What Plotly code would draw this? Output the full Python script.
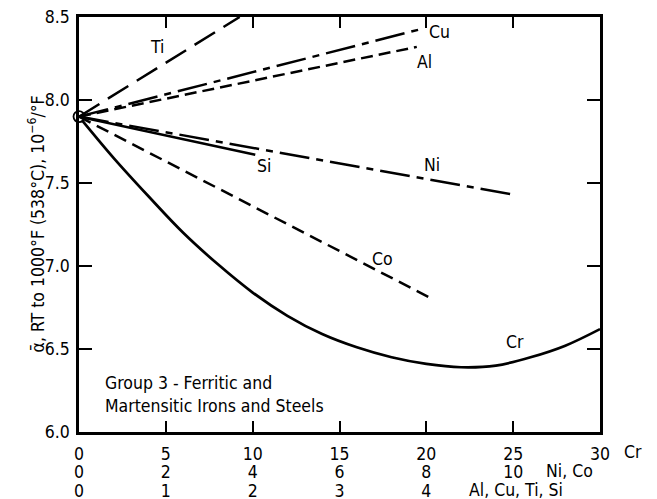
import plotly.graph_objects as go

# ---------------- data ----------------
# Cr scale (wt %), 0-30
cr_x = [0, 2, 4, 6, 8, 10, 12, 14, 16, 18, 20, 22, 24, 26, 28, 30]
cr_y = [7.90, 7.65, 7.42, 7.20, 7.01, 6.84, 6.70, 6.59, 6.51, 6.45, 6.41, 6.39, 6.40, 6.45, 6.52, 6.62]

# Ni, Co scale (wt %), 0-12
ni_x = [0, 10.0]
ni_y = [7.90, 7.43]
co_x = [0, 8.15]
co_y = [7.90, 6.80]

# Al, Cu, Ti, Si scale (wt %), 0-6
ti_x = [0, 1.85]
ti_y = [7.90, 8.50]
cu_x = [0, 3.96]
cu_y = [7.90, 8.43]
al_x = [0, 3.89]
al_y = [7.90, 8.32]
si_x = [0, 2.03]
si_y = [7.90, 7.67]

origin_x = [0]
origin_y = [7.90]

cr_ticks = [0, 5, 10, 15, 20, 25, 30]
nico_ticks = [0, 2, 4, 6, 8, 10]
alcu_ticks = [0, 1, 2, 3, 4]
y_ticks = [6.0, 6.5, 7.0, 7.5, 8.0, 8.5]
y_ticktext = ["6.0", "6.5", "7.0", "7.5", "8.0", "8.5"]

# ---------------- layout constants ----------------
W, H = 657, 499
ML, MR, MT, MB = 79, 57, 17, 0
PLOT_BOTTOM_PX = 432
PH = H - MT - MB
PW = W - ML - MR
FREE_LABEL_OFF = 16  # px from a free axis position to the centre of its tick labels


def py(px):
    """pixel row (from top) -> paper y"""
    return (H - MB - px) / PH


def px_(x):
    """pixel column -> paper x"""
    return (x - ML) / PW


FONT = "Liberation Sans Narrow, DejaVu Sans Condensed, Arial Narrow, Roboto, sans-serif"
FS = 17.5
LW = 2.5
BLACK = "black"

fig = go.Figure()

fig.add_trace(go.Scatter(x=cr_x, y=cr_y, mode="lines", line=dict(color=BLACK, width=2.7, shape="spline"),
                         xaxis="x", yaxis="y", showlegend=False))
fig.add_trace(go.Scatter(x=ni_x, y=ni_y, mode="lines", line=dict(color=BLACK, width=LW, dash="30px,7px,7px,7px"),
                         xaxis="x2", yaxis="y", showlegend=False))
fig.add_trace(go.Scatter(x=co_x, y=co_y, mode="lines", line=dict(color=BLACK, width=LW, dash="13px,7px"),
                         xaxis="x2", yaxis="y", showlegend=False))
fig.add_trace(go.Scatter(x=ti_x, y=ti_y, mode="lines", line=dict(color=BLACK, width=LW, dash="24px,10px"),
                         xaxis="x3", yaxis="y", showlegend=False))
fig.add_trace(go.Scatter(x=cu_x, y=cu_y, mode="lines", line=dict(color=BLACK, width=LW, dash="30px,7px,7px,7px"),
                         xaxis="x3", yaxis="y", showlegend=False))
fig.add_trace(go.Scatter(x=al_x, y=al_y, mode="lines", line=dict(color=BLACK, width=LW, dash="12px,6px"),
                         xaxis="x3", yaxis="y", showlegend=False))
fig.add_trace(go.Scatter(x=si_x, y=si_y, mode="lines", line=dict(color=BLACK, width=LW),
                         xaxis="x3", yaxis="y", showlegend=False))
fig.add_trace(go.Scatter(x=origin_x, y=origin_y, mode="markers", cliponaxis=False,
                         marker=dict(size=11, color="white", line=dict(color=BLACK, width=1.8)),
                         xaxis="x", yaxis="y", showlegend=False))

tickfont = dict(family=FONT, size=FS, color=BLACK)
y_dom0 = py(PLOT_BOTTOM_PX)

fig.update_layout(
    width=W, height=H,
    margin=dict(l=ML, r=MR, t=MT, b=MB, pad=0, autoexpand=False),
    paper_bgcolor="white", plot_bgcolor="white",
    font=dict(family=FONT, size=FS, color=BLACK),
    showlegend=False,
    xaxis=dict(range=[0, 30], tickvals=cr_ticks, ticks="inside", ticklen=11, tickwidth=1.5, tickcolor=BLACK,
               showline=True, linecolor=BLACK, linewidth=2.5, mirror="ticks", showgrid=False, zeroline=False,
               tickfont=tickfont, ticklabelstandoff=4, anchor="y", automargin=False),
    xaxis2=dict(range=[0, 12], tickvals=nico_ticks, ticks="", showline=False, showgrid=False, zeroline=False,
                overlaying="x", anchor="free", position=py(471 - FREE_LABEL_OFF), tickfont=tickfont,
                ticklabelstandoff=4, automargin=False),
    xaxis3=dict(range=[0, 6], tickvals=alcu_ticks, ticks="", showline=False, showgrid=False, zeroline=False,
                overlaying="x", anchor="free", position=py(490 - FREE_LABEL_OFF), tickfont=tickfont,
                ticklabelstandoff=4, automargin=False),
    yaxis=dict(range=[6, 8.5], domain=[y_dom0, 1], tickvals=y_ticks, ticktext=y_ticktext, ticks="inside",
               ticklen=13, tickwidth=1.5, tickcolor=BLACK, showline=True, linecolor=BLACK, linewidth=2.5,
               mirror="ticks", showgrid=False, zeroline=False, tickfont=tickfont, ticklabelstandoff=3,
               automargin=False),
)

ann_font = dict(family=FONT, size=FS, color=BLACK)
C = dict(showarrow=False, font=ann_font, xanchor="center", yanchor="middle")
annotations = [
    # axis scale names
    dict(text="Cr", x=px_(633), xref="paper", y=py(452), yref="paper", **C),
    dict(text="Ni, Co", x=11.3, xref="x2", y=py(471), yref="paper", **C),
    dict(text="Al, Cu, Ti, Si", x=5.03, xref="x3", y=py(490), yref="paper", **C),
    # curve labels
    dict(text="Ti", x=0.9, xref="x3", y=8.32, yref="y", **C),
    dict(text="Cu", x=4.15, xref="x3", y=8.41, yref="y", **C),
    dict(text="Al", x=3.98, xref="x3", y=8.23, yref="y", **C),
    dict(text="Ni", x=8.12, xref="x2", y=7.61, yref="y", **C),
    dict(text="Si", x=2.13, xref="x3", y=7.60, yref="y", **C),
    dict(text="Co", x=7.0, xref="x2", y=7.04, yref="y", **C),
    dict(text="Cr", x=25.1, xref="x", y=6.54, yref="y", **C),
    # y-axis title
    dict(text="\u03b1\u0304, RT to 1000\u00b0F (538\u00b0C), 10<sup>\u22126</sup>/\u00b0F",
         x=px_(36), xref="paper", y=7.25, yref="y", textangle=-90, **C),
    # group note
    dict(text="Group 3 - Ferritic and<br>Martensitic Irons and Steels", x=1.38, xref="x", y=6.223, yref="y",
         xanchor="left", yanchor="middle", align="left", showarrow=False, font=ann_font),
]
fig.update_layout(annotations=annotations)

fig.write_html("out.html")
